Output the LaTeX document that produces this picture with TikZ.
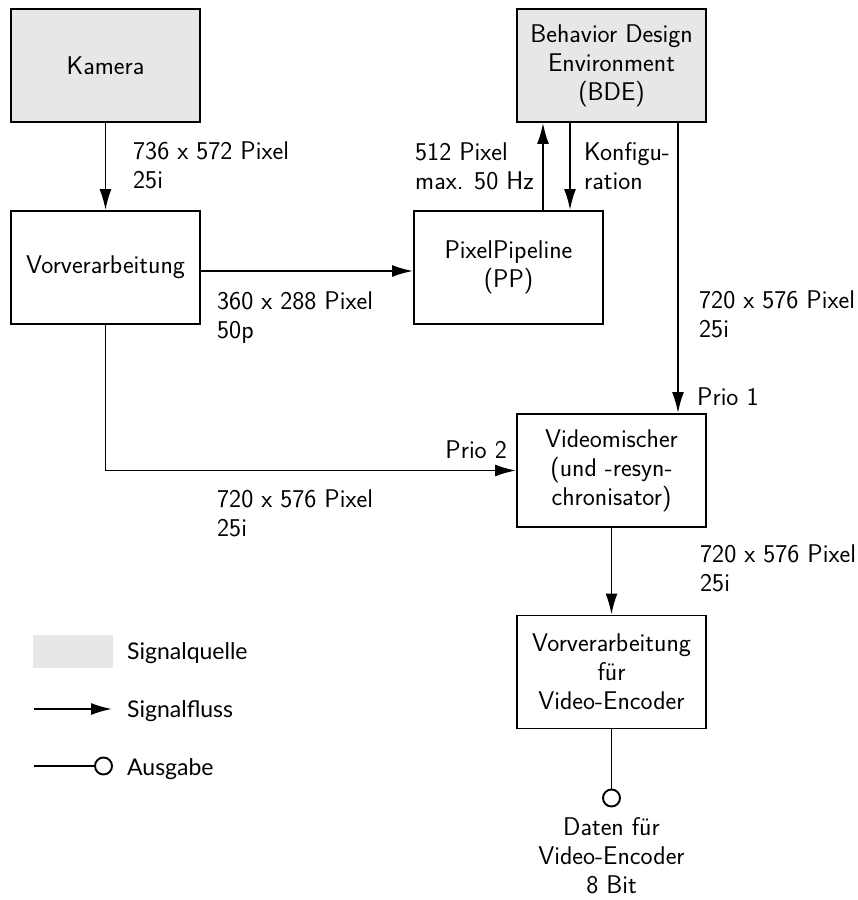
\documentclass[tikz,border=0pt]{standalone}
\usepackage{fontspec}
\newfontfamily\legendfont{Lato}
\usetikzlibrary{arrows.meta}
\definecolor{srcgray}{HTML}{E6E7E9}
\begin{document}
\begin{tikzpicture}[x=1pt,y=-1pt,
  every node/.style={font=\sffamily\fontsize{25.6}{29}\selectfont},
  block/.style={draw, line width=1.9pt, minimum width=189pt, minimum height=113pt, inner sep=0pt, align=center},
  source/.style={block, fill=srcgray},
  arr/.style={line width=1.9pt, -{Latex[length=21pt,width=12pt]}},
  conn/.style={line width=1.9pt},
  lbl/.style={anchor=base west, align=left, inner sep=0pt},
  outport/.style={circle, draw, line width=1.9pt, minimum size=17pt, inner sep=0pt},
  legtext/.style={anchor=base west, inner sep=0pt, font=\legendfont\fontsize{23}{28}\selectfont}]
\useasboundingbox (0,0) rectangle (858,900);

% blocks
\node[source] (cam) at (105.5,65.5) {Kamera};
\node[block] (vorv) at (105.5,267.5) {Vorverarbeitung};
\node[block] (pp) at (508.5,267.5) {PixelPipeline\\(PP)};
\node[source] (bde) at (611.5,65.5) {Behavior Design\\Environment\\(BDE)};
\node[block] (vm) at (611.5,470.5) {Videomischer\\(und -resyn-\\chronisator)};
\node[block] (ve) at (611.5,672) {Vorverarbeitung\\für\\Video-Encoder};
\node[outport] (out) at (611.5,798) {};

% connectors
\draw[arr] (cam) -- (vorv);
\draw[arr] ([yshift=-3.5pt]vorv.east) -- ([yshift=-3.5pt]pp.west);
\draw[arr] ([xshift=34.5pt]pp.north) -- ([xshift=34.5pt]pp.north |- bde.south);
\draw[arr] ([xshift=-41.5pt]bde.south) -- ([xshift=-41.5pt]bde.south |- pp.north);
\draw[arr] ([xshift=66.5pt]bde.south) -- ([xshift=66.5pt]vm.north);
\draw[arr] (vorv.south) |- (vm.west);
\draw[arr] (vm) -- (ve);
\draw[conn] (ve) -- (out);

% labels (anchor = baseline of last line)
\node[lbl] (l1) at (133,188) {736 x 572 Pixel\\25i};
\node[lbl] (l2) at (217,338) {360 x 288 Pixel\\50p};
\node[lbl] (l3) at (415,189) {512 Pixel\\max. 50 Hz};
\node[lbl] (l4) at (584,189) {Konfigu-\\ration};
\node[lbl] (l5) at (699,337) {720 x 576 Pixel\\25i};
\node[lbl] (l6) at (217,536) {720 x 576 Pixel\\25i};
\node[lbl] (l7) at (700,591) {720 x 576 Pixel\\25i};
\node[lbl] (p1) at (697,405) {Prio 1};
\node[lbl, anchor=base east] (p2) at (507,458) {Prio 2};
\node[inner sep=0pt, anchor=base, align=center] (outtxt) at (611.5,893) {Daten für\\Video-Encoder\\8 Bit};

% legend
\fill[srcgray] (33,635) rectangle (113,668);
\node[legtext] (lq) at (127,659) {Signalquelle};
\coordinate (fa) at (34,709);
\coordinate (fb) at (112,709);
\draw[arr] (fa) -- (fb);
\node[legtext] (lf) at (127,717) {Signalfluss};
\coordinate (ga) at (34,766);
\node[outport] (gc) at (103.5,766) {};
\draw[conn] (ga) -- (gc);
\node[legtext] (la) at (127,775) {Ausgabe};
\end{tikzpicture}
\end{document}
